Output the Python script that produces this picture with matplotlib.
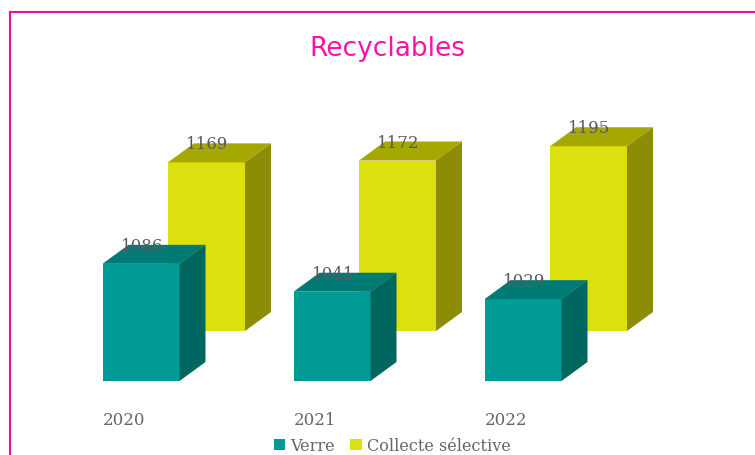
import matplotlib
matplotlib.use("Agg")
import matplotlib.pyplot as plt
from matplotlib.patches import Polygon, Patch
from matplotlib.lines import Line2D

years = ["2020", "2021", "2022"]
verre = [1086, 1041, 1029]
collecte = [1169, 1172, 1195]
title = "Recyclables"
series_names = ["Verre", "Collecte sélective"]

W, H = 755, 456
PX_PER_CAT = 191.0
PX_PER_VAL = 0.62
BASE = 897.0
BASE_PX = 382.0
X0_PX = 141.0

fig = plt.figure(figsize=(W / 100, H / 100), dpi=100, facecolor="white")
ax = fig.add_axes([0, (H - BASE_PX) / H, 1, BASE_PX / H])
ax.set_xlim(-X0_PX / PX_PER_CAT, (W - X0_PX) / PX_PER_CAT)
ax.set_ylim(BASE, BASE + BASE_PX / PX_PER_VAL)
ax.patch.set_alpha(0)
for s in ax.spines.values():
    s.set_visible(False)
ax.set_yticks([])

bw = 77 / PX_PER_CAT
dx = 26 / PX_PER_CAT
dy = 19 / PX_PER_VAL
shift_x = 65.5 / PX_PER_CAT
shift_y = 50 / PX_PER_VAL
TXT = "#5a5a5a"
SERIF = "DejaVu Serif"


def box(x, v, bottom, front, top, side, z):
    left, right = x - bw / 2, x + bw / 2
    ax.bar(x, v - BASE, bottom=bottom, width=bw, color=front, zorder=z, linewidth=0)
    head = bottom + v - BASE
    ax.add_patch(Polygon([(left, head), (right, head), (right + dx, head + dy), (left + dx, head + dy)],
                         closed=True, fc=top, ec="none", zorder=z))
    ax.add_patch(Polygon([(right, bottom), (right + dx, bottom + dy), (right + dx, head + dy), (right, head)],
                         closed=True, fc=side, ec="none", zorder=z))
    ax.annotate(str(v), (x + 1 / PX_PER_CAT, head), xytext=(0, 18.5 * 0.72), textcoords="offset points",
                ha="center", va="center", color=TXT, fontsize=12, family=SERIF, zorder=5)


for i in range(len(years)):
    box(i + shift_x, collecte[i], BASE + shift_y, "#DCE00E", "#A5A800", "#8C8C05", 1)
    box(i, verre[i], BASE, "#009B95", "#007A75", "#006660", 2)

ax.set_xticks([i - bw / 2 for i in range(len(years))])
ax.set_xticklabels(years, ha="left", color="#666666", fontsize=12, family=SERIF)
ax.tick_params(axis="x", length=0, pad=21.7)

fig.text(387 / W, 1 - 49 / H, title, color="#FF10A8", fontsize=19, ha="center", va="center",
         family="DejaVu Sans")

handles = [Patch(fc="#009B95", ec="none"), Patch(fc="#DCE00E", ec="none")]
fig.legend(handles, series_names, loc="center", bbox_to_anchor=(392 / W, 1 - 446.5 / H), ncol=2,
           frameon=False, handlelength=0.7, handleheight=0.7, handletextpad=0.3,
           columnspacing=1.0, borderpad=0, labelcolor="#666666", prop={"family": SERIF, "size": 11.6})

BORDER = "#F00CA0"
fig.add_artist(Line2D([9.5 / W, 9.5 / W], [0, 1 - 12.5 / H], color=BORDER, lw=1.5, transform=fig.transFigure))
fig.add_artist(Line2D([9.5 / W, 1], [1 - 12.5 / H, 1 - 12.5 / H], color=BORDER, lw=1.5, transform=fig.transFigure))

fig.savefig("out.png", dpi=100, facecolor="white")
